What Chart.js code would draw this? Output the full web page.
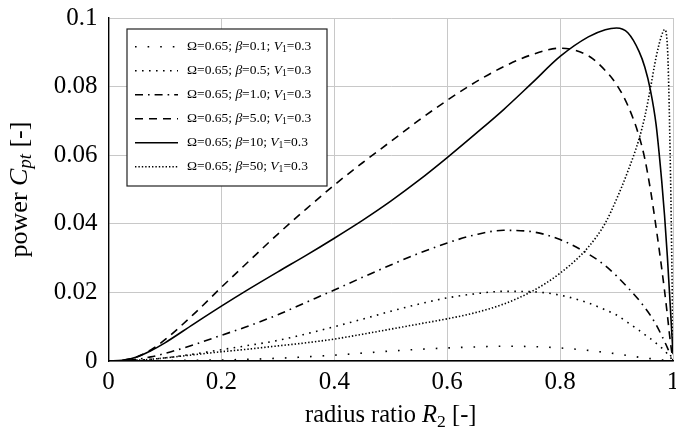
<!DOCTYPE html>
<html><head><meta charset="utf-8">
<script src="https://cdn.jsdelivr.net/npm/chart.js@4"></script>
<style>html,body{margin:0;padding:0;background:#fff}#wrap{width:676px;height:434px}</style>
</head><body><div id="wrap"><canvas id="c" width="676" height="434"></canvas></div>
<script>
// ---- data ----
const radiusRatio = [0, 0.025, 0.05, 0.075, 0.1, 0.15, 0.2, 0.25, 0.3, 0.35, 0.4, 0.45, 0.5, 0.55, 0.6, 0.65, 0.7, 0.75, 0.8, 0.85, 0.88, 0.9, 0.92, 0.94, 0.95, 0.96, 0.97, 0.98, 0.985, 0.99, 0.995, 1.0];
const betaLabels = ['0.1', '0.5', '1.0', '5.0', '10', '50'];
const cpBeta01 = [0, 0, 0, 0, 0.0001, 0.0002, 0.0003, 0.0005, 0.0008, 0.0012, 0.0017, 0.0023, 0.0029, 0.0034, 0.0038, 0.0041, 0.0043, 0.0042, 0.0038, 0.0031, 0.0025, 0.0021, 0.0016, 0.0011, 0.0009, 0.0007, 0.0005, 0.0003, 0.0002, 0.0001, 0, 0];
const cpBeta05 = [0, 0, 0.0002, 0.0005, 0.0009, 0.0020, 0.0033, 0.0046, 0.0060, 0.0079, 0.0100, 0.0122, 0.0145, 0.0166, 0.0184, 0.0196, 0.0203, 0.0202, 0.0192, 0.0169, 0.0149, 0.0134, 0.0112, 0.0089, 0.0077, 0.0065, 0.0052, 0.0038, 0.0030, 0.0021, 0.0011, 0];
const cpBeta1 = [0, 0.0001, 0.0005, 0.0012, 0.0022, 0.0047, 0.0075, 0.0103, 0.0135, 0.0171, 0.0207, 0.0244, 0.0280, 0.0314, 0.0344, 0.0368, 0.0381, 0.0377, 0.0354, 0.0312, 0.0278, 0.0248, 0.0214, 0.0177, 0.0156, 0.0133, 0.0106, 0.0074, 0.0057, 0.0039, 0.0019, 0];
const cpBeta5 = [0, 0.0002, 0.0012, 0.0032, 0.0062, 0.0135, 0.0215, 0.0293, 0.0370, 0.0443, 0.0513, 0.0578, 0.0640, 0.0702, 0.0760, 0.0813, 0.0858, 0.0893, 0.0912, 0.0890, 0.0847, 0.0806, 0.0745, 0.0655, 0.0590, 0.0500, 0.0390, 0.0270, 0.0205, 0.0135, 0.0060, 0];
const cpBeta10 = [0, 0.0002, 0.0012, 0.0030, 0.0053, 0.0107, 0.0160, 0.0211, 0.0260, 0.0308, 0.0358, 0.0410, 0.0466, 0.0527, 0.0593, 0.0662, 0.0733, 0.0810, 0.0888, 0.0945, 0.0966, 0.0971, 0.0957, 0.0902, 0.0857, 0.0790, 0.0690, 0.0525, 0.0425, 0.0305, 0.0165, 0.0020];
const cpBeta50 = [0, 0, 0.0002, 0.0005, 0.0009, 0.0018, 0.0027, 0.0035, 0.0044, 0.0053, 0.0064, 0.0078, 0.0093, 0.0108, 0.0123, 0.0141, 0.0166, 0.0203, 0.0256, 0.0332, 0.0402, 0.0472, 0.0553, 0.0648, 0.0712, 0.0795, 0.0885, 0.0950, 0.0966, 0.0920, 0.0600, 0.0050];
const xTickValues = [0, 0.2, 0.4, 0.6, 0.8, 1];
const xTickLabels = ['0', '0.2', '0.4', '0.6', '0.8', '1'];
const yTickValues = [0, 0.02, 0.04, 0.06, 0.08, 0.1];
const yTickLabels = ['0', '0.02', '0.04', '0.06', '0.08', '0.1'];

const seriesValues = [cpBeta01, cpBeta05, cpBeta1, cpBeta5, cpBeta10, cpBeta50];
const dashes = [[1.6, 11], [1.6, 5.4], [8, 5, 1.6, 5], [8, 6], [], [1.4, 2]];

const FONT = '"Liberation Serif", "Times New Roman", serif';

function drawRich(ctx, parts, x, y, size, alignLeft) {
  const fontOf = p => (p.italic ? 'italic ' : '') + (p.sub ? size * 0.72 : size) + 'px ' + FONT;
  let total = 0;
  parts.forEach(p => { ctx.font = fontOf(p); total += ctx.measureText(p.t).width; });
  let cx = alignLeft ? x : x - total / 2;
  ctx.textBaseline = 'middle';
  ctx.textAlign = 'left';
  parts.forEach(p => {
    ctx.font = fontOf(p);
    ctx.fillText(p.t, cx, p.sub ? y + size * 0.24 : y);
    cx += ctx.measureText(p.t).width;
  });
}

const decor = {
  id: 'decor',
  afterDraw(chart) {
    const ctx = chart.ctx;
    const a = chart.chartArea;
    ctx.save();
    ctx.fillStyle = '#000';
    // x title
    drawRich(ctx, [{t: 'radius ratio '}, {t: 'R', italic: true}, {t: '2', sub: true}, {t: ' [-]'}], (a.left + a.right) / 2, 416, 24.5);
    // y title
    ctx.save();
    ctx.translate(20, (a.top + a.bottom) / 2);
    ctx.rotate(-Math.PI / 2);
    drawRich(ctx, [{t: 'power '}, {t: 'C', italic: true}, {t: 'pt', italic: true, sub: true}, {t: ' [-]'}], 0, 0, 26);
    ctx.restore();
    // legend
    const bx = 127, by = 29, bw = 200, bh = 157;
    ctx.fillStyle = '#fff';
    ctx.fillRect(bx, by, bw, bh);
    ctx.strokeStyle = '#222';
    ctx.lineWidth = 1.2;
    ctx.strokeRect(bx, by, bw, bh);
    chart.data.datasets.forEach((ds, i) => {
      const ry = 46.7 + i * 24;
      ctx.beginPath();
      ctx.setLineDash(ds.borderDash || []);
      ctx.lineWidth = ds.borderWidth;
      ctx.strokeStyle = '#000';
      ctx.moveTo(135, ry);
      ctx.lineTo(178, ry);
      ctx.stroke();
      ctx.setLineDash([]);
      ctx.fillStyle = '#000';
      drawRich(ctx, [{t: 'Ω=0.65; '}, {t: 'β', italic: true}, {t: '=' + betaLabels[i] + '; '}, {t: 'V', italic: true}, {t: '1', sub: true}, {t: '=0.3'}], 187, ry, 13.5, true);
    });
    ctx.restore();
  }
};

const datasets = seriesValues.map((vals, i) => ({
  label: 'β=' + betaLabels[i],
  data: radiusRatio.map((x, j) => ({x: x, y: vals[j]})),
  showLine: true,
  pointRadius: 0,
  borderColor: '#000',
  backgroundColor: '#000',
  borderWidth: 1.6,
  borderDash: dashes[i],
  borderCapStyle: 'butt',
  cubicInterpolationMode: 'monotone',
  fill: false
}));

new Chart(document.getElementById('c'), {
  type: 'scatter',
  data: {datasets},
  options: {
    responsive: false,
    animation: false,
    devicePixelRatio: 1,
    layout: {padding: {top: 18, right: 3, left: 0, bottom: 0}},
    plugins: {legend: {display: false}, tooltip: {enabled: false}, title: {display: false}},
    scales: {
      x: {
        type: 'linear', min: 0, max: 1,
        afterBuildTicks: s => { s.ticks = xTickValues.map(v => ({value: v})); },
        afterFit: s => { s.height = 73; s.paddingLeft = 0; s.paddingRight = 0; },
        ticks: {callback: (v, i) => xTickLabels[i], color: '#000', font: {family: FONT, size: 25}, padding: 6, maxRotation: 0},
        grid: {color: '#c8c8c8', lineWidth: 1, drawTicks: false},
        border: {color: '#000', width: 1.4}
      },
      y: {
        type: 'linear', min: 0, max: 0.1,
        afterBuildTicks: s => { s.ticks = yTickValues.map(v => ({value: v})); },
        afterFit: s => { s.width = 108.5; s.paddingTop = 0; s.paddingBottom = 0; },
        ticks: {callback: (v, i) => yTickLabels[i], color: '#000', font: {family: FONT, size: 25}, padding: 11},
        grid: {color: '#c8c8c8', lineWidth: 1, drawTicks: false},
        border: {color: '#000', width: 1.4}
      }
    }
  },
  plugins: [decor]
});
</script>
</body></html>
